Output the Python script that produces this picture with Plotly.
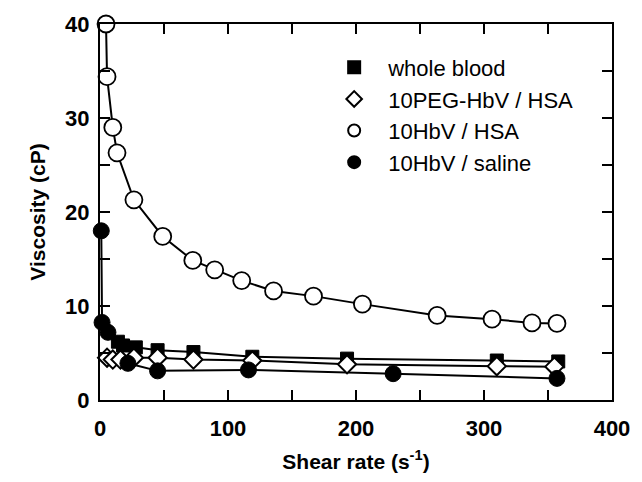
import plotly.graph_objects as go

# Shear rate (1/s) and viscosity (cP)
wb_x = [14, 18, 28, 45, 73, 119, 193, 310, 358]
wb_y = [6.2, 5.8, 5.6, 5.3, 5.1, 4.6, 4.4, 4.2, 4.1]

peg_x = [5.5, 10, 16, 26.5, 45, 73, 119, 193, 310, 355]
peg_y = [4.5, 4.3, 4.3, 4.5, 4.5, 4.3, 4.2, 3.8, 3.6, 3.55]

hsa_x = [4.7, 5.5, 10, 13.3, 26.5, 49, 72.5, 89.6, 110.7, 135.6, 166.8, 205, 263.4, 306.3, 337.5, 357]
hsa_y = [40, 34.4, 29.0, 26.3, 21.3, 17.4, 14.85, 13.85, 12.7, 11.6, 11.05, 10.2, 9.0, 8.6, 8.2, 8.15]

sal_x = [1, 1.6, 6.2, 21.8, 45, 116, 229, 357]
sal_y = [18, 8.25, 7.2, 3.9, 3.1, 3.2, 2.8, 2.3]

names = ["whole blood", "10PEG-HbV / HSA", "10HbV / HSA", "10HbV / saline"]

fig = go.Figure()

series = [
    (wb_x, wb_y, dict(symbol="square", size=13, color="black", line=dict(color="black", width=1))),
    (peg_x, peg_y, dict(symbol="diamond", size=14, color="white", line=dict(color="black", width=2))),
    (hsa_x, hsa_y, dict(symbol="circle", size=17, color="white", line=dict(color="black", width=1.8))),
    (sal_x, sal_y, dict(symbol="circle", size=16, color="black", line=dict(color="black", width=1))),
]

for xs, ys, _ in series:
    fig.add_trace(go.Scatter(x=xs, y=ys, mode="lines", showlegend=False,
                             line=dict(color="black", width=2), cliponaxis=False))

for (xs, ys, mk), nm in zip(series, names):
    fig.add_trace(go.Scatter(x=xs, y=ys, mode="markers", name=nm, marker=mk, cliponaxis=False))

tick_font = dict(family="Liberation Sans", size=22, color="black", weight="bold")
title_font = dict(family="Liberation Sans", size=21, color="black", weight="bold")

axis_common = dict(
    showline=True, linecolor="black", linewidth=2, mirror="allticks",
    ticks="inside", ticklen=10, tickwidth=2, tickcolor="black",
    showgrid=False, zeroline=False, tickfont=tick_font,
)

fig.update_xaxes(range=[0, 400], dtick=100, tick0=0, ticklabelstandoff=8,
                 minor=dict(dtick=50, ticks="inside", ticklen=10, tickwidth=2, tickcolor="black"),
                 title=dict(text="Shear rate (s<sup>-1</sup>)", font=title_font, standoff=14),
                 **axis_common)
fig.update_yaxes(range=[0, 40], dtick=10, tick0=0, ticklabelstandoff=4,
                 minor=dict(dtick=5, ticks="inside", ticklen=10, tickwidth=2, tickcolor="black"),
                 title=dict(text="Viscosity (cP)", font=title_font, standoff=14),
                 **axis_common)

fig.update_layout(
    width=642, height=482,
    margin=dict(l=100, r=30, t=20, b=78),
    paper_bgcolor="white", plot_bgcolor="white",
    legend=dict(x=0.43, y=0.94, xanchor="left", yanchor="top",
                font=dict(family="Liberation Sans", size=22, color="black"),
                bgcolor="rgba(0,0,0,0)", tracegroupgap=0, itemsizing="constant",
                itemwidth=58),
)

fig.write_html("out.html")
